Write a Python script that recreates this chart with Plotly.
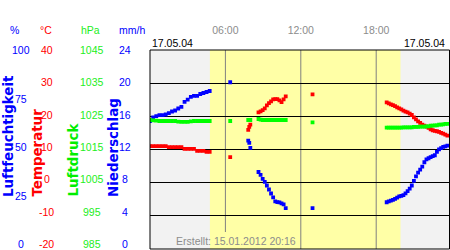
import plotly.graph_objects as go

DAY = "2004-05-17 "

# ---- data ----
night_times = ["00:00", "00:15", "00:30", "00:45", "01:00", "01:15", "01:30", "01:45",
               "02:00", "02:15", "02:30", "02:45", "03:00", "03:15", "03:30", "03:45",
               "04:00", "04:15", "04:30", "04:45"]
night_hum = [64.3, 66.1, 66.8, 67.3, 67.3, 67.6, 68.3, 69.1, 69.6, 70.6,
             71.4, 73.9, 75.1, 76.4, 76.9, 76.9, 77.9, 78.4, 78.9, 79.4]
night_temp = [11.0, 11.0, 11.0, 11.0, 11.0, 11.0, 10.7, 10.7, 10.7, 10.7,
              10.7, 10.2, 10.2, 10.2, 10.2, 9.6, 9.6, 9.6, 9.3, 9.3]
night_pres = [1023.9, 1023.8, 1023.7, 1023.6, 1023.6, 1023.6, 1023.6, 1023.6, 1023.6, 1023.4,
              1023.3, 1023.3, 1023.3, 1023.5, 1023.6, 1023.6, 1023.6, 1023.6, 1023.6, 1023.6]

day_times = ["06:23", "07:49", "07:54", "07:59", "08:38", "08:48", "08:58", "09:08", "09:18",
             "09:28", "09:38", "09:48", "09:58", "10:08", "10:18", "10:28", "10:38", "10:48",
             "12:56"]
day_hum = [83.8, 54.5, 53.3, 50.8, 38.7, 37.2, 35.2, 33.7, 31.9,
           29.9, 27.9, 25.9, 23.9, 23.6, 23.4, 22.9, 22.4, 20.5,
           20.5]
day_temp = [7.7, 15.9, 16.8, 17.5, 21.2, 21.5, 21.9, 22.4, 23.3,
            24.0, 24.5, 25.1, 25.2, 25.2, 24.8, 24.3, 25.1, 26.0,
            26.6]
day_pres = [1023.6, 1023.9, 1023.9, 1023.9, 1024.2, 1024.0, 1023.9, 1023.9, 1023.9,
            1023.9, 1023.9, 1023.9, 1023.9, 1023.9, 1023.9, 1023.9, 1023.9, 1023.9,
            1023.2]

eve_times = ["18:50", "19:00", "19:10", "19:20", "19:30", "19:40", "19:50", "20:00",
             "20:10", "20:20", "20:30", "20:40", "20:50", "21:00", "21:10", "21:20",
             "21:30", "21:40", "21:50", "22:00", "22:10", "22:20", "22:30", "22:40",
             "22:50", "23:00", "23:10", "23:20", "23:30", "23:40"]
eve_hum = [23.5, 23.9, 24.3, 24.7, 25.2, 25.8, 26.4, 26.7, 27.1, 28.0,
           29.1, 30.3, 31.9, 34.2, 36.5, 38.4, 39.9, 41.4, 43.6, 45.0,
           45.6, 46.2, 46.7, 47.1, 48.8, 50.1, 50.7, 51.3, 51.6, 51.9]
eve_temp = [24.2, 23.9, 23.6, 23.4, 23.1, 22.7, 22.4, 22.1, 21.7, 21.4,
            21.2, 20.8, 20.4, 19.7, 19.1, 18.5, 18.0, 17.5, 17.2, 16.9,
            16.5, 16.1, 15.8, 15.6, 15.5, 15.3, 15.0, 14.8, 14.5, 14.2]
eve_pres = [1021.6, 1021.6, 1021.6, 1021.6, 1021.6, 1021.6, 1021.6, 1021.6,
            1021.65, 1021.65, 1021.7, 1021.7, 1021.7, 1021.8, 1021.8, 1021.8,
            1021.9, 1021.9, 1021.9, 1022.0, 1022.0, 1022.2, 1022.2, 1022.3,
            1022.3, 1022.5, 1022.5, 1022.6, 1022.7, 1022.7]

precip_times = []
precip_vals = []

sunrise = "04:46"
sunset = "19:56"

hum_ticks = [0, 25, 50, 75, 100]
temp_ticks = [-20, -10, 0, 10, 20, 30, 40]
pres_ticks = [985, 995, 1005, 1015, 1025, 1035, 1045]
prec_ticks = [0, 4, 8, 12, 16, 20, 24]
time_ticks = ["06:00", "12:00", "18:00"]
date_label = "17.05.04"
created_label = "Erstellt: 15.01.2012 20:16"

# ---- styles ----
BLUE = "#0000ff"
RED = "#ff0000"
GREEN = "#00ff00"
GREEN_TXT = "#22ee22"
GRAY = "#8c8c8c"
W, H = 450, 250
TOP, BOT = 50, 249
LAB_BOT = 244  # tick-label column is slightly compressed vs. the grid


def t(lst):
    return [DAY + s for s in lst]


all_times = t(night_times + day_times + eve_times)

fig = go.Figure()
mk = dict(symbol="square", size=3.8, line=dict(width=0))
fig.add_trace(go.Scatter(x=all_times, y=night_pres + day_pres + eve_pres, mode="markers",
                         marker=dict(color=GREEN, **mk), yaxis="y3", name="Luftdruck"))
fig.add_trace(go.Scatter(x=all_times, y=night_temp + day_temp + eve_temp, mode="markers",
                         marker=dict(color=RED, **mk), yaxis="y", name="Temperatur"))
fig.add_trace(go.Scatter(x=all_times, y=night_hum + day_hum + eve_hum, mode="markers",
                         marker=dict(color=BLUE, **mk), yaxis="y2", name="Luftfeuchtigkeit"))
fig.add_trace(go.Scatter(x=t(precip_times), y=precip_vals, mode="markers",
                         marker=dict(color=BLUE, **mk), yaxis="y4", name="Niederschlag"))

tickfont = dict(family="Liberation Sans, Arial, sans-serif", size=10.5)


def px_y(py):
    return (BOT - py) / (BOT - TOP)


def yax(rng, **kw):
    d = dict(range=rng, showticklabels=False, showline=False, zeroline=False,
             showgrid=False, ticks="", fixedrange=True)
    d.update(kw)
    return d


fig.update_layout(
    width=W, height=H,
    margin=dict(l=0, r=0, t=TOP, b=H - BOT, pad=0),
    paper_bgcolor="white", plot_bgcolor="#f2f2f2",
    showlegend=False,
    font=dict(family="Liberation Sans, Arial, sans-serif"),
    xaxis=dict(type="date", domain=[150 / W, 449.5 / W],
               range=[DAY + "00:00", DAY + "23:50"], side="top",
               tickvals=t(time_ticks), ticktext=time_ticks,
               tickfont=dict(tickfont, color=GRAY), ticks="outside", ticklen=11,
               tickcolor="rgba(0,0,0,0)", showgrid=False, zeroline=False, showline=False),
    yaxis=yax([-20, 40], tickvals=temp_ticks, showgrid=True, gridcolor="black", gridwidth=1),
    yaxis2=yax([0, 100], overlaying="y"),
    yaxis3=yax([985, 1045], overlaying="y"),
    yaxis4=yax([0, 24], overlaying="y"),
)

shapes = [
    dict(type="rect", xref="x", yref="paper", x0=DAY + sunrise, x1=DAY + sunset, y0=0, y1=1,
         fillcolor="#ffffa6", line=dict(width=0), layer="below"),
    dict(type="line", xref="x", yref="paper", x0=DAY + "06:00", x1=DAY + "06:00",
         y0=px_y(232), y1=1, line=dict(color="#808080", width=1), layer="below"),
    dict(type="line", xref="x", yref="paper", x0=DAY + "12:00", x1=DAY + "12:00",
         y0=0, y1=1, line=dict(color="#808080", width=1), layer="below"),
    dict(type="line", xref="x", yref="paper", x0=DAY + "18:00", x1=DAY + "18:00",
         y0=0, y1=1, line=dict(color="#808080", width=1), layer="below"),
    dict(type="rect", xref="x domain", yref="paper", x0=0, x1=1, y0=0, y1=1,
         line=dict(color="black", width=1), fillcolor="rgba(0,0,0,0)", layer="above"),
]
fig.update_layout(shapes=shapes)

ann = []
lab = dict(family="Liberation Sans, Arial, sans-serif", size=10.5)


def label_column(ticks, xc, color):
    lo, hi = min(ticks), max(ticks)
    for v in ticks:
        py = TOP + (hi - v) / (hi - lo) * (LAB_BOT - TOP)
        ann.append(dict(text=str(v), x=xc / W, y=px_y(py), xref="paper", yref="paper",
                        xanchor="center", yanchor="middle", showarrow=False,
                        font=dict(lab, color=color)))


label_column(hum_ticks, 20.5, BLUE)
label_column(temp_ticks, 46.5, RED)
label_column(pres_ticks, 91.5, GREEN_TXT)
label_column(prec_ticks, 124.5, BLUE)

for txt, x, col in [("%", 14, BLUE), ("°C", 46, RED), ("hPa", 90, GREEN_TXT), ("mm/h", 132, BLUE)]:
    ann.append(dict(text=txt, x=x / W, y=px_y(30), xref="paper", yref="paper",
                    xanchor="center", yanchor="middle", showarrow=False,
                    font=dict(lab, color=col)))
ann.append(dict(text=date_label, x=150 / W, y=px_y(43), xref="paper", yref="paper",
                xanchor="left", yanchor="middle", showarrow=False, font=dict(lab, color="black")))
ann.append(dict(text=date_label, x=447 / W, y=px_y(43), xref="paper", yref="paper",
                xanchor="right", yanchor="middle", showarrow=False, font=dict(lab, color="black")))
ann.append(dict(text=created_label, x=236 / W, y=px_y(241), xref="paper", yref="paper",
                xanchor="center", yanchor="middle", showarrow=False, font=dict(lab, color=GRAY)))
tfont = dict(family="DejaVu Sans", size=13.4)
for txt, x, col in [("Luftfeuchtigkeit", 8, BLUE), ("Temperatur", 36.5, RED),
                    ("Luftdruck", 72.5, "#00ee00"), ("Niederschlag", 113.5, BLUE)]:
    ann.append(dict(text="<b>" + txt + "</b>", x=x / W, y=px_y(199), xref="paper", yref="paper",
                    xanchor="center", yanchor="bottom", textangle=-90, showarrow=False,
                    font=dict(tfont, color=col)))
fig.update_layout(annotations=ann)

fig.write_html("out.html")
